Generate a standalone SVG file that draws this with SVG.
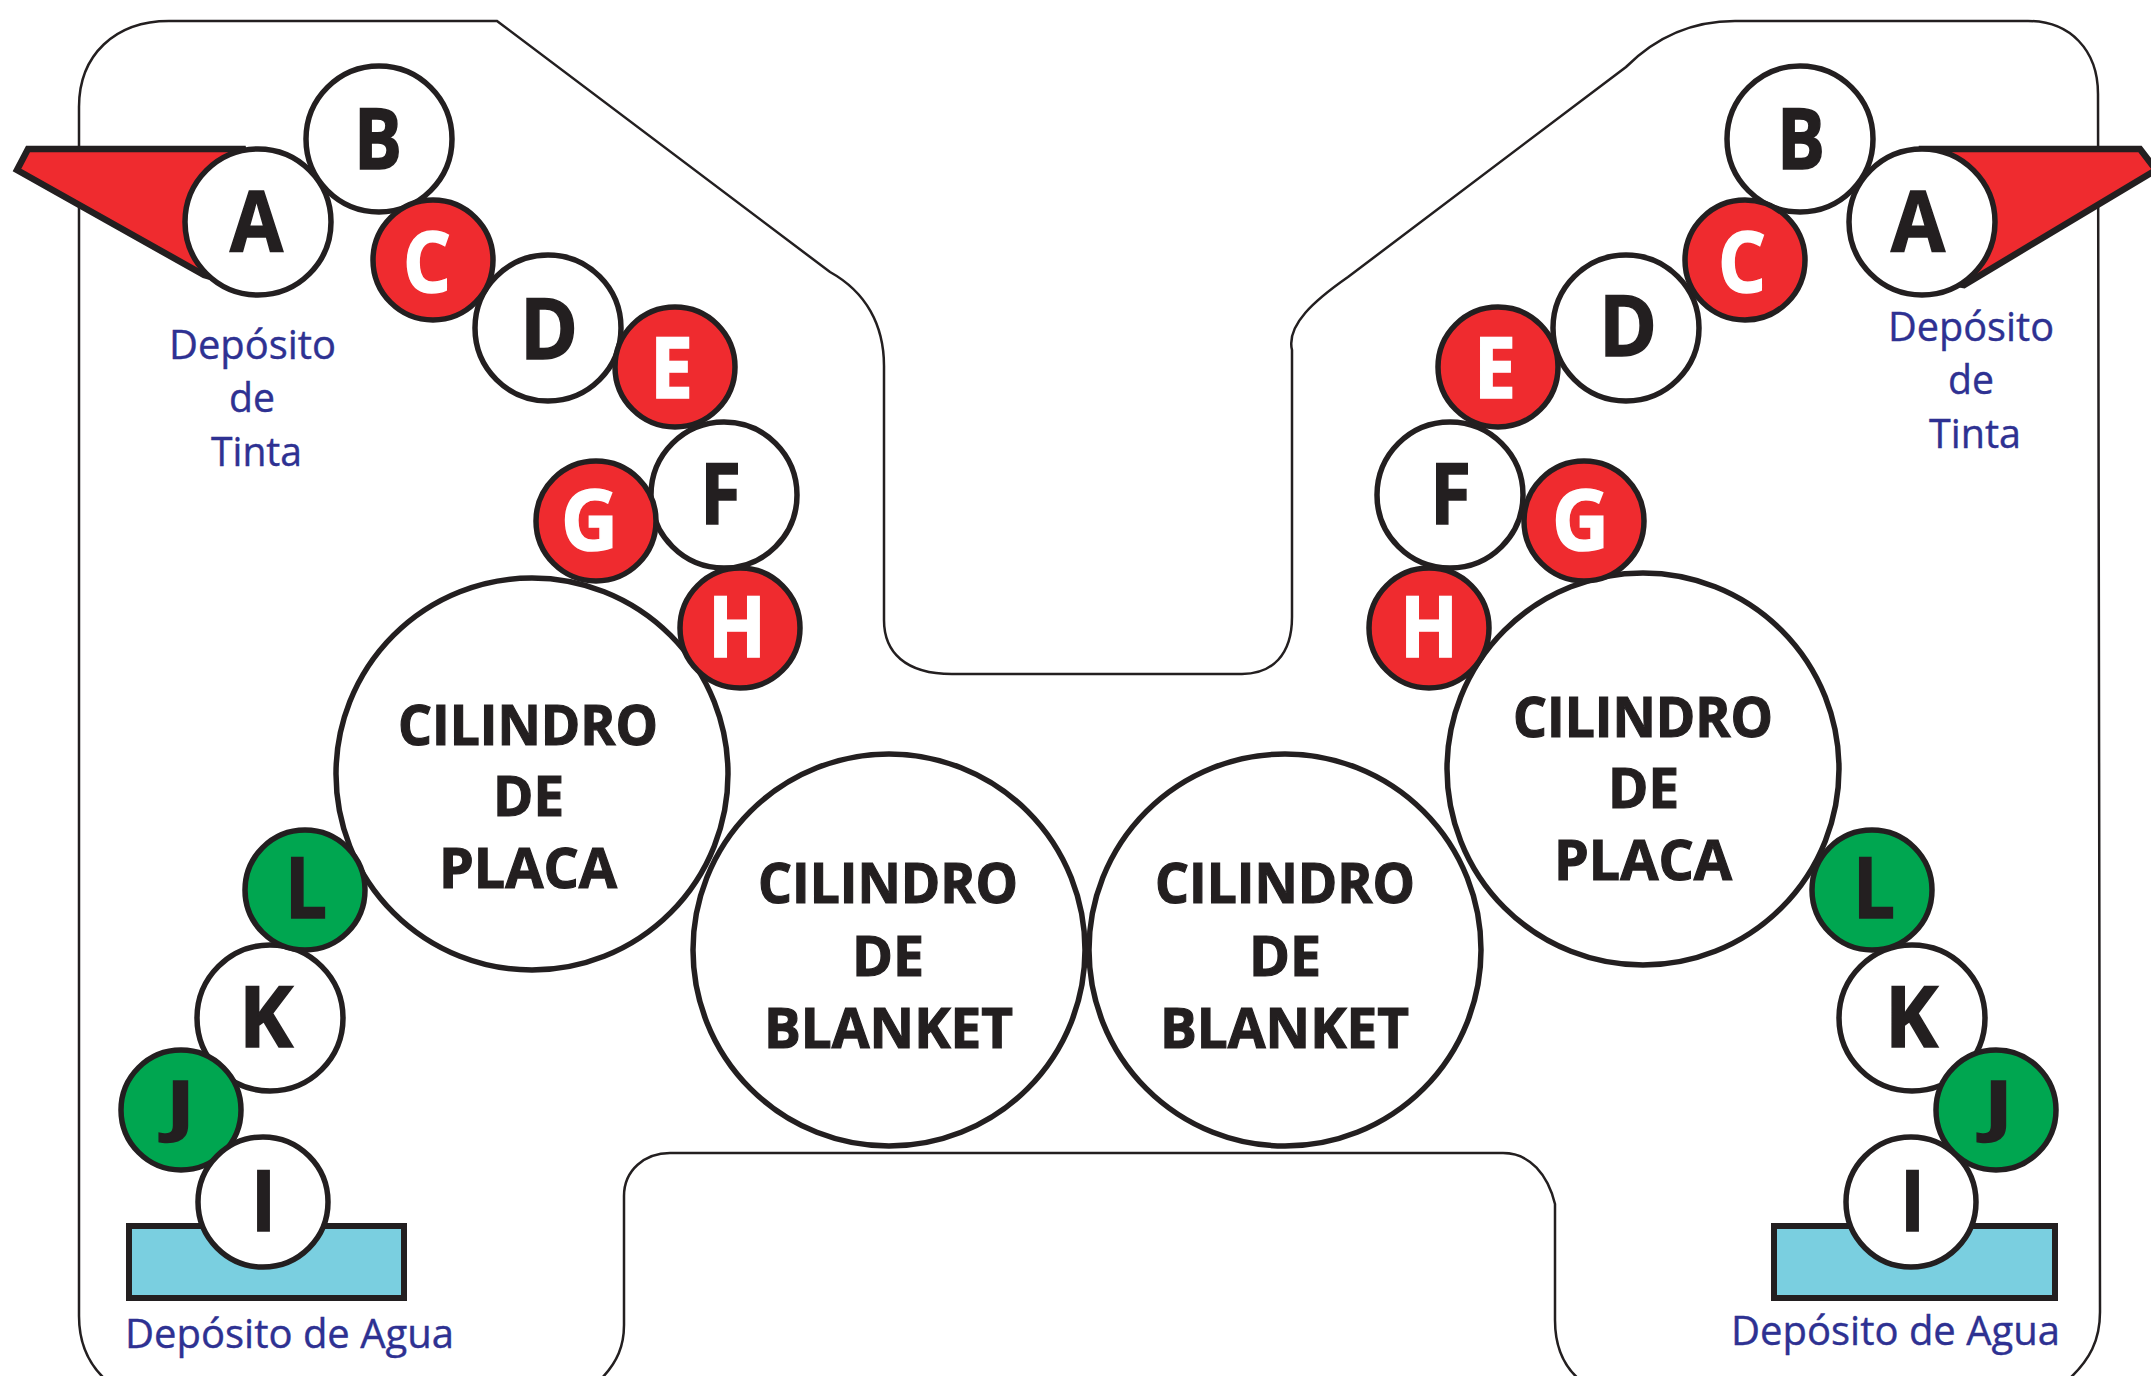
<svg xmlns="http://www.w3.org/2000/svg" width="2151" height="1376" viewBox="0 0 2151 1376">
<style>
.r{stroke:#231f20;stroke-width:5.5}
.w{fill:#fff}.red{fill:#ef2b2f}.grn{fill:#00a650}
.t{font-family:"Open Sans","Noto Sans",sans-serif;font-weight:700;fill:#231f20;stroke:#231f20;stroke-width:1.6;font-size:84px}
.tw{fill:#fff;stroke:#fff}
.c{font-size:56px;stroke-width:1.2}
.j{font-size:66px}
.b{font-family:"Open Sans","Noto Sans",sans-serif;font-weight:400;fill:#2e3192;stroke:#2e3192;stroke-width:.4;font-size:41px}
.frame{fill:none;stroke:#231f20;stroke-width:2.5}
.wedge{fill:#ef2b2f;stroke:#231f20;stroke-width:6.5;stroke-linejoin:miter}
.tank{fill:#7acfe0;stroke:#231f20;stroke-width:6}
</style>
<rect width="2151" height="1376" fill="#fff"/>
<g id="frame">
<path class="frame" d="M106 1380C86 1362 79 1340 79 1316V107C79 55 115 21 169 21H497L830 272C866 292 884 325 884 366V620C884 652 905 674 952 674H1242C1272 674 1292 655 1292 617V350C1286 325 1315 300 1348 277L1626 67C1655 38 1690 21 1735 21H2028C2070 21 2098 50 2098 94L2100 1312C2100 1340 2090 1360 2068 1380M1580 1380C1562 1365 1555 1345 1555 1320V1204C1548 1175 1530 1153 1503 1153H670C645 1153 624 1170 624 1196V1325C624 1345 618 1362 600 1380"/>
</g>
<g id="tank-tinta-left"><path class="wedge" d="M28 149H243L258 222L238 285L204 275L17 170Z"/></g>
<g id="tank-tinta-right"><path class="wedge" d="M1922 149H2140L2156 170L1964 285L1935 280L1922 222Z"/></g>
<g id="tank-agua-left"><rect class="tank" x="129" y="1226" width="275" height="72"/></g>
<g id="tank-agua-right"><rect class="tank" x="1774" y="1226" width="281" height="72"/></g>

<g id="left-blanket"><circle class="r w" cx="889" cy="950" r="196"/>
<text class="t c" x="758" y="903" textLength="260" lengthAdjust="spacingAndGlyphs">CILINDRO</text>
<text class="t c" x="852" y="976" textLength="72" lengthAdjust="spacingAndGlyphs">DE</text>
<text class="t c" x="764" y="1048" textLength="249" lengthAdjust="spacingAndGlyphs">BLANKET</text></g>
<g id="right-blanket"><circle class="r w" cx="1285" cy="950" r="196"/>
<text class="t c" x="1155" y="903" textLength="260" lengthAdjust="spacingAndGlyphs">CILINDRO</text>
<text class="t c" x="1249" y="976" textLength="72" lengthAdjust="spacingAndGlyphs">DE</text>
<text class="t c" x="1160" y="1048" textLength="249" lengthAdjust="spacingAndGlyphs">BLANKET</text></g>
<g id="left-plate"><circle class="r w" cx="532" cy="774" r="196"/>
<text class="t c" x="398" y="745" textLength="260" lengthAdjust="spacingAndGlyphs">CILINDRO</text>
<text class="t c" x="493" y="816" textLength="71" lengthAdjust="spacingAndGlyphs">DE</text>
<text class="t c" x="439" y="888" textLength="178" lengthAdjust="spacingAndGlyphs">PLACA</text></g>
<g id="right-plate"><circle class="r w" cx="1643" cy="769" r="196"/>
<text class="t c" x="1513" y="737" textLength="260" lengthAdjust="spacingAndGlyphs">CILINDRO</text>
<text class="t c" x="1608" y="808" textLength="71" lengthAdjust="spacingAndGlyphs">DE</text>
<text class="t c" x="1554" y="880" textLength="178" lengthAdjust="spacingAndGlyphs">PLACA</text></g>

<g id="left-A"><circle class="r w" cx="258" cy="222" r="73"/><text class="t" x="230" y="251" textLength="53" lengthAdjust="spacingAndGlyphs">A</text></g>
<g id="left-B"><circle class="r w" cx="379" cy="139" r="73"/><text class="t" x="354" y="169" textLength="48" lengthAdjust="spacingAndGlyphs">B</text></g>
<g id="left-D"><circle class="r w" cx="548" cy="328" r="73"/><text class="t" x="520" y="359" textLength="58" lengthAdjust="spacingAndGlyphs">D</text></g>
<g id="left-C"><circle class="r red" cx="433" cy="260" r="60"/><text class="t tw" x="403" y="292" textLength="48" lengthAdjust="spacingAndGlyphs">C</text></g>
<g id="left-F"><circle class="r w" cx="724" cy="495" r="73"/><text class="t" x="700" y="524" textLength="41" lengthAdjust="spacingAndGlyphs">F</text></g>
<g id="left-E"><circle class="r red" cx="675" cy="367" r="60"/><text class="t tw" x="650" y="398" textLength="43" lengthAdjust="spacingAndGlyphs">E</text></g>
<g id="left-G"><circle class="r red" cx="596" cy="521" r="60"/><text class="t tw" x="561" y="550" textLength="57" lengthAdjust="spacingAndGlyphs">G</text></g>
<g id="left-H"><circle class="r red" cx="740" cy="628" r="60"/><text class="t tw" x="708" y="657" textLength="58" lengthAdjust="spacingAndGlyphs">H</text></g>
<g id="left-K"><circle class="r w" cx="270" cy="1018" r="73"/><text class="t" x="239" y="1047" textLength="54" lengthAdjust="spacingAndGlyphs">K</text></g>
<g id="left-L"><circle class="r grn" cx="305" cy="890" r="60"/><text class="t" x="285" y="918" textLength="42" lengthAdjust="spacingAndGlyphs">L</text></g>
<g id="left-J"><circle class="r grn" cx="181" cy="1110" r="60"/><text class="t j" x="166" y="1129" textLength="29" lengthAdjust="spacingAndGlyphs">J</text></g>
<g id="left-I"><circle class="r w" cx="263" cy="1202" r="65"/><text class="t" x="251" y="1231" textLength="25" lengthAdjust="spacingAndGlyphs">I</text></g>

<g id="right-A"><circle class="r w" cx="1922" cy="222" r="73"/><text class="t" x="1891" y="251" textLength="54" lengthAdjust="spacingAndGlyphs">A</text></g>
<g id="right-B"><circle class="r w" cx="1800" cy="139" r="73"/><text class="t" x="1777" y="169" textLength="48" lengthAdjust="spacingAndGlyphs">B</text></g>
<g id="right-D"><circle class="r w" cx="1626" cy="328" r="73"/><text class="t" x="1599" y="356" textLength="58" lengthAdjust="spacingAndGlyphs">D</text></g>
<g id="right-C"><circle class="r red" cx="1745" cy="260" r="60"/><text class="t tw" x="1718" y="292" textLength="48" lengthAdjust="spacingAndGlyphs">C</text></g>
<g id="right-F"><circle class="r w" cx="1450" cy="495" r="73"/><text class="t" x="1430" y="524" textLength="41" lengthAdjust="spacingAndGlyphs">F</text></g>
<g id="right-E"><circle class="r red" cx="1498" cy="367" r="60"/><text class="t tw" x="1474" y="398" textLength="42" lengthAdjust="spacingAndGlyphs">E</text></g>
<g id="right-G"><circle class="r red" cx="1584" cy="521" r="60"/><text class="t tw" x="1552" y="550" textLength="57" lengthAdjust="spacingAndGlyphs">G</text></g>
<g id="right-H"><circle class="r red" cx="1429" cy="628" r="60"/><text class="t tw" x="1400" y="657" textLength="58" lengthAdjust="spacingAndGlyphs">H</text></g>
<g id="right-K"><circle class="r w" cx="1912" cy="1018" r="73"/><text class="t" x="1885" y="1047" textLength="53" lengthAdjust="spacingAndGlyphs">K</text></g>
<g id="right-L"><circle class="r grn" cx="1872" cy="890" r="60"/><text class="t" x="1853" y="918" textLength="42" lengthAdjust="spacingAndGlyphs">L</text></g>
<g id="right-I"><circle class="r w" cx="1911" cy="1202" r="65"/><text class="t" x="1900" y="1231" textLength="25" lengthAdjust="spacingAndGlyphs">I</text></g>
<g id="right-J"><circle class="r grn" cx="1996" cy="1110" r="60"/><text class="t j" x="1984" y="1129" textLength="29" lengthAdjust="spacingAndGlyphs">J</text></g>

<g id="labels">
<text class="b" x="169" y="359" textLength="167" lengthAdjust="spacingAndGlyphs">Depósito</text>
<text class="b" x="229" y="412" textLength="46" lengthAdjust="spacingAndGlyphs">de</text>
<text class="b" x="211" y="466" textLength="91" lengthAdjust="spacingAndGlyphs">Tinta</text>
<text class="b" x="1888" y="341" textLength="166" lengthAdjust="spacingAndGlyphs">Depósito</text>
<text class="b" x="1948" y="394" textLength="46" lengthAdjust="spacingAndGlyphs">de</text>
<text class="b" x="1929" y="448" textLength="92" lengthAdjust="spacingAndGlyphs">Tinta</text>
<text class="b" x="125" y="1348" textLength="329" lengthAdjust="spacingAndGlyphs">Depósito de Agua</text>
<text class="b" x="1731" y="1345" textLength="329" lengthAdjust="spacingAndGlyphs">Depósito de Agua</text>
</g>
</svg>
